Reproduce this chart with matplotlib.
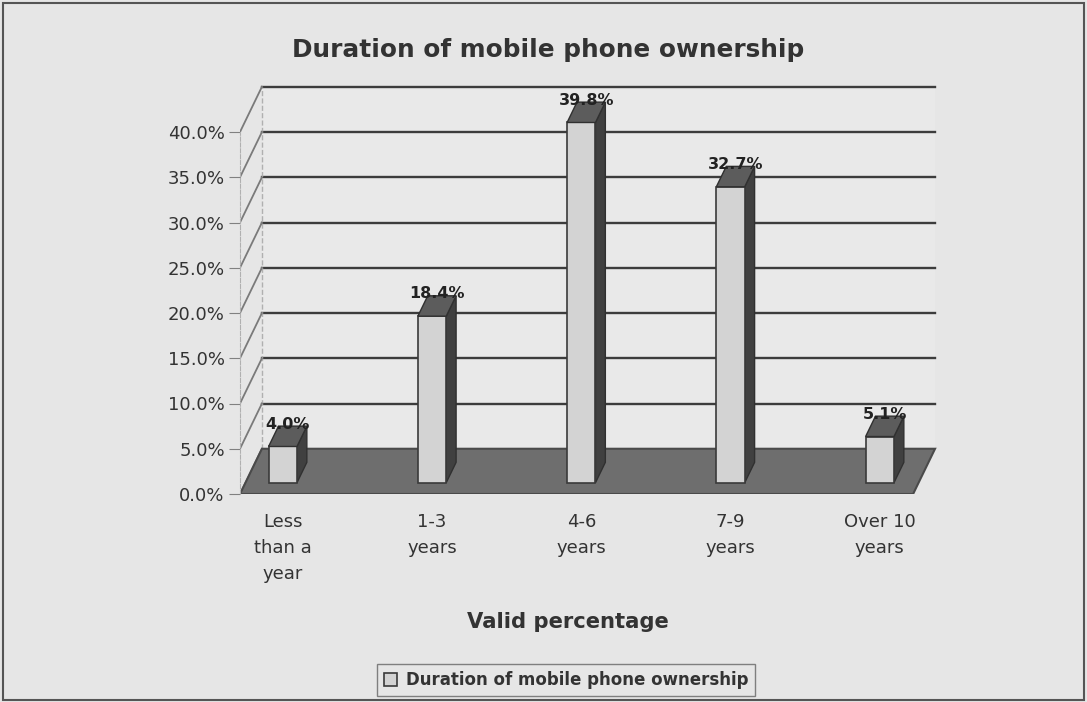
import matplotlib.pyplot as plt
from matplotlib.patches import Polygon, Patch, Rectangle

# data
categories = ["Less\nthan a\nyear", "1-3\nyears", "4-6\nyears", "7-9\nyears", "Over 10\nyears"]
values = [4.0, 18.4, 39.8, 32.7, 5.1]
value_labels = ["4.0%", "18.4%", "39.8%", "32.7%", "5.1%"]
y_ticks = [0, 5, 10, 15, 20, 25, 30, 35, 40]

bg = "#e6e6e6"
# depth of the fake 3d box in data units (x in categories, y in percent)
dx, dy = 0.147, 5.0
d0, d1 = 0.25, 0.7   # bar front / back as fraction of depth
w = 0.19
x_left, x_right = -0.25, 4.26

fig = plt.figure(figsize=(10.87, 7.02), dpi=100, facecolor=bg)
ax = fig.add_axes([240 / 1087, 1 - 494 / 702, 720 / 1087, 414 / 702])
ax.set_facecolor("none")
ax.set_xlim(x_left, x_left + 720 / 149.25)
ax.set_ylim(0, 414 / 9.05)

# back wall with gridlines
ax.add_patch(Rectangle((x_left + dx, dy), x_right - x_left, 40, facecolor="#e9e9e9",
                       edgecolor="none", zorder=0))
for t in y_ticks[1:]:
    ax.plot([x_left + dx, x_right + dx], [t + dy, t + dy], color="#3c3c3c", lw=1.7, zorder=1)
ax.plot([x_left + dx, x_left + dx], [dy, 40 + dy], color="#b0b0b0", lw=1, ls="--", zorder=1)

# left wall diagonals
for t in y_ticks:
    ax.plot([x_left, x_left + dx], [t, t + dy], color="#7a7a7a", lw=1.3, zorder=1)

# floor
floor = [(x_left, 0), (x_right, 0), (x_right + dx, dy), (x_left + dx, dy)]
ax.add_patch(Polygon(floor, closed=True, facecolor="#6e6e6e", edgecolor="#4a4a4a",
                     lw=1.5, zorder=2))

# bars: front faces through ax.bar, then side and top faces
pos = [i + d0 * dx for i in range(len(values))]
ax.bar(pos, values, width=w, bottom=d0 * dy, color="#d3d3d3", edgecolor="#3a3a3a",
       lw=1.2, zorder=4)
for i, v in enumerate(values):
    xl = pos[i] - w / 2
    xr = pos[i] + w / 2
    sx = (d1 - d0) * dx
    sy = (d1 - d0) * dy
    y0 = d0 * dy
    side = [(xr, y0), (xr + sx, y0 + sy), (xr + sx, y0 + sy + v), (xr, y0 + v)]
    top = [(xl, y0 + v), (xr, y0 + v), (xr + sx, y0 + sy + v), (xl + sx, y0 + sy + v)]
    ax.add_patch(Polygon(side, closed=True, facecolor="#404040", edgecolor="#303030",
                         lw=1, zorder=3))
    ax.add_patch(Polygon(top, closed=True, facecolor="#5c5c5c", edgecolor="#303030",
                         lw=1, zorder=5))
    ax.text(pos[i] + sx / 2, y0 + sy + v + 0.2, value_labels[i], ha="center", va="center",
            fontsize=11.5, fontweight="bold", color="#222222", zorder=6)

# axes styling
for s in ["top", "right", "bottom"]:
    ax.spines[s].set_visible(False)
ax.spines["left"].set_bounds(0, 40)
ax.spines["left"].set_color("#b0b0b0")
ax.spines["left"].set_linestyle("--")
ax.set_yticks(y_ticks)
ax.set_yticklabels(["%.1f%%" % t for t in y_ticks])
ax.tick_params(axis="y", length=8, color="#808080", labelsize=13, labelcolor="#333333", pad=3)
ax.set_xticks(pos)
ax.set_xticklabels(categories)
ax.tick_params(axis="x", length=0, labelsize=13, labelcolor="#333333", pad=14)
for lab in ax.get_xticklabels():
    lab.set_linespacing(1.55)
    lab.set_verticalalignment("top")

fig.text(548 / 1087, 1 - 50 / 702, "Duration of mobile phone ownership", ha="center",
         va="center", fontsize=17.8, fontweight="bold", color="#333333")
fig.text(568 / 1087, 1 - 622 / 702, "Valid percentage", ha="center", va="center",
         fontsize=15.2, fontweight="bold", color="#333333")

handle = Patch(facecolor="#d3d3d3", edgecolor="#3a3a3a", lw=1.2)
leg = fig.legend([handle], ["Duration of mobile phone ownership"], loc="center",
                 bbox_to_anchor=(566 / 1087, 1 - 680 / 702), frameon=True, fancybox=False,
                 handlelength=0.8, handleheight=0.8, handletextpad=0.5, borderpad=0.4,
                 prop={"size": 12, "weight": "bold"})
leg.get_frame().set_edgecolor("#666666")
leg.get_frame().set_facecolor(bg)
for t in leg.get_texts():
    t.set_color("#333333")

# outer frame
fig.patches.append(Rectangle((3 / 1087, 2 / 702), 1081 / 1087, 697 / 702, fill=False,
                             edgecolor="#555555", lw=1.5, transform=fig.transFigure))

fig.savefig("out.png", dpi=100, facecolor=bg)
